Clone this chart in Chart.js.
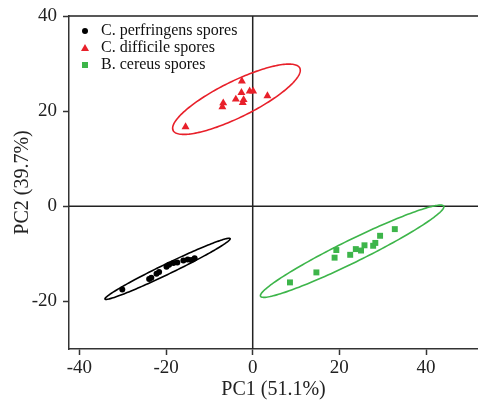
<!DOCTYPE html>
<html>
<head>
<meta charset="utf-8">
<script src="https://cdn.jsdelivr.net/npm/chart.js@4"></script>
<style>
  html, body { margin: 0; padding: 0; background: #fff; }
  #wrap { width: 478px; height: 403px; }
</style>
</head>
<body>
<div id="wrap"><canvas id="pca" width="478" height="403"></canvas></div>
<script>
// PCA scores
const perfringensX = [-30.1, -23.9, -23.4, -22.2, -21.6, -19.9, -19.3, -18.3, -17.4, -16.0, -15.0, -14.2, -13.4];
const perfringensY = [-17.5, -15.3, -15.0, -14.2, -13.8, -12.7, -12.3, -11.9, -11.8, -11.4, -11.2, -11.3, -10.9];

const difficileX = [-15.5, -2.5, -2.6, -0.7, 0.1, -3.9, -2.1, -2.3, 3.4, -6.8, -7.0];
const difficileY = [16.7, 26.3, 23.9, 24.2, 24.2, 22.5, 22.4, 21.8, 23.2, 21.7, 20.9];

const cereusX = [8.6, 14.7, 18.9, 19.3, 22.5, 23.8, 25.0, 25.8, 27.8, 28.3, 29.4, 32.8];
const cereusY = [-16.0, -13.9, -10.8, -9.2, -10.2, -9.0, -9.3, -8.2, -8.3, -7.7, -6.2, -4.8];

const seriesNames = ["C. perfringens spores", "C. difficile spores", "B. cereus spores"];
const seriesColors = ["#000000", "#e8202a", "#3db54a"];

// confidence ellipses: centre, major semi-axis vector, minor semi-axis length
const ellipseCenters = [[-19.65, -13.15], [-3.75, 22.5], [22.95, -9.45]];
const ellipseMajor = [[14.45, 6.35], [14.65, 6.5], [21.15, 9.45]];
const ellipseMinor = [1.1, 3.85, 2.4];

const xTicks = [-40, -20, 0, 20, 40];
const yTicks = [-20, 0, 20, 40];

function toPoints(xs, ys) {
    return xs.map((x, i) => ({ x: x, y: ys[i] }));
}

const serif = "'Liberation Serif', 'DejaVu Serif', serif";

const extras = {
    id: "extras",
    beforeDatasetsDraw(chart) {
        const { ctx, chartArea: a, scales: { x, y } } = chart;
        ctx.save();
        ctx.strokeStyle = "#222";
        ctx.lineWidth = 1.5;
        ctx.beginPath();
        // top frame
        ctx.moveTo(a.left, a.top);
        ctx.lineTo(a.right, a.top);
        // zero lines
        const x0 = x.getPixelForValue(0);
        const y0 = y.getPixelForValue(0);
        ctx.moveTo(x0, a.top);
        ctx.lineTo(x0, a.bottom);
        ctx.moveTo(a.left, y0);
        ctx.lineTo(a.right, y0);
        ctx.stroke();

        // ellipses
        ctx.lineWidth = 1.6;
        ellipseCenters.forEach((c, k) => {
            const m = ellipseMajor[k];
            const len = Math.hypot(m[0], m[1]);
            const px = -m[1] / len * ellipseMinor[k];
            const py = m[0] / len * ellipseMinor[k];
            ctx.strokeStyle = seriesColors[k];
            ctx.beginPath();
            for (let i = 0; i <= 180; i++) {
                const t = i / 180 * Math.PI * 2;
                const dx = c[0] + Math.cos(t) * m[0] + Math.sin(t) * px;
                const dy = c[1] + Math.cos(t) * m[1] + Math.sin(t) * py;
                const sx = x.getPixelForValue(dx);
                const sy = y.getPixelForValue(dy);
                if (i === 0) ctx.moveTo(sx, sy); else ctx.lineTo(sx, sy);
            }
            ctx.closePath();
            ctx.stroke();
        });
        ctx.restore();
    },
    afterDraw(chart) {
        // legend inside the plot
        const { ctx } = chart;
        ctx.save();
        ctx.font = "16px " + serif;
        ctx.textBaseline = "middle";
        const rows = [31, 48, 65];
        seriesNames.forEach((name, k) => {
            const yy = rows[k];
            const xx = 85;
            ctx.fillStyle = seriesColors[k];
            ctx.beginPath();
            if (k === 0) {
                ctx.arc(xx, yy, 3, 0, Math.PI * 2);
            } else if (k === 1) {
                ctx.moveTo(xx, yy - 4);
                ctx.lineTo(xx + 4, yy + 3);
                ctx.lineTo(xx - 4, yy + 3);
                ctx.closePath();
            } else {
                ctx.rect(xx - 3, yy - 3, 6, 6);
            }
            ctx.fill();
            ctx.fillStyle = "#111";
            ctx.fillText(name, 101, yy);
        });
        ctx.restore();
    }
};

new Chart(document.getElementById("pca"), {
    type: "scatter",
    data: {
        datasets: [
            {
                label: seriesNames[0],
                data: toPoints(perfringensX, perfringensY),
                pointStyle: "circle",
                pointRadius: 3,
                backgroundColor: seriesColors[0],
                borderColor: seriesColors[0],
                borderWidth: 0
            },
            {
                label: seriesNames[1],
                data: toPoints(difficileX, difficileY),
                pointStyle: "triangle",
                pointRadius: 4.6,
                backgroundColor: seriesColors[1],
                borderColor: seriesColors[1],
                borderWidth: 0
            },
            {
                label: seriesNames[2],
                data: toPoints(cereusX, cereusY),
                pointStyle: "rect",
                pointRadius: 4.2,
                backgroundColor: seriesColors[2],
                borderColor: seriesColors[2],
                borderWidth: 0
            }
        ]
    },
    options: {
        responsive: false,
        animation: false,
        layout: { autoPadding: false, padding: { top: 16, right: 0, left: 0, bottom: 0 } },
        plugins: {
            legend: { display: false },
            tooltip: { enabled: false }
        },
        scales: {
            x: {
                type: "linear",
                min: -42.4,
                max: 52,
                afterBuildTicks: s => { s.ticks = xTicks.map(v => ({ value: v })); },
                afterFit: s => { s.height = 54; s.paddingLeft = 0; s.paddingRight = 0; },
                grid: { drawOnChartArea: false, tickLength: 6, color: "#333", tickWidth: 1.5 },
                border: { color: "#333", width: 1.5 },
                ticks: { color: "#222", font: { family: serif, size: 19 }, padding: 2, maxRotation: 0 },
                title: { display: true, text: "PC1 (51.1%)", color: "#222", font: { family: serif, size: 20 }, padding: { top: 0, bottom: 1 } }
            },
            y: {
                type: "linear",
                min: -30,
                max: 40,
                afterBuildTicks: s => { s.ticks = yTicks.map(v => ({ value: v })); },
                afterFit: s => { s.width = 69; s.paddingTop = 0; s.paddingBottom = 0; },
                grid: { drawOnChartArea: false, tickLength: 6, color: "#333", tickWidth: 1.5 },
                border: { color: "#333", width: 1.5 },
                ticks: { color: "#222", font: { family: serif, size: 19 }, padding: 6 },
                title: { display: true, text: "PC2 (39.7%)", color: "#222", font: { family: serif, size: 20 }, padding: { top: 11, bottom: 0 } }
            }
        }
    },
    plugins: [extras]
});
</script>
</body>
</html>
